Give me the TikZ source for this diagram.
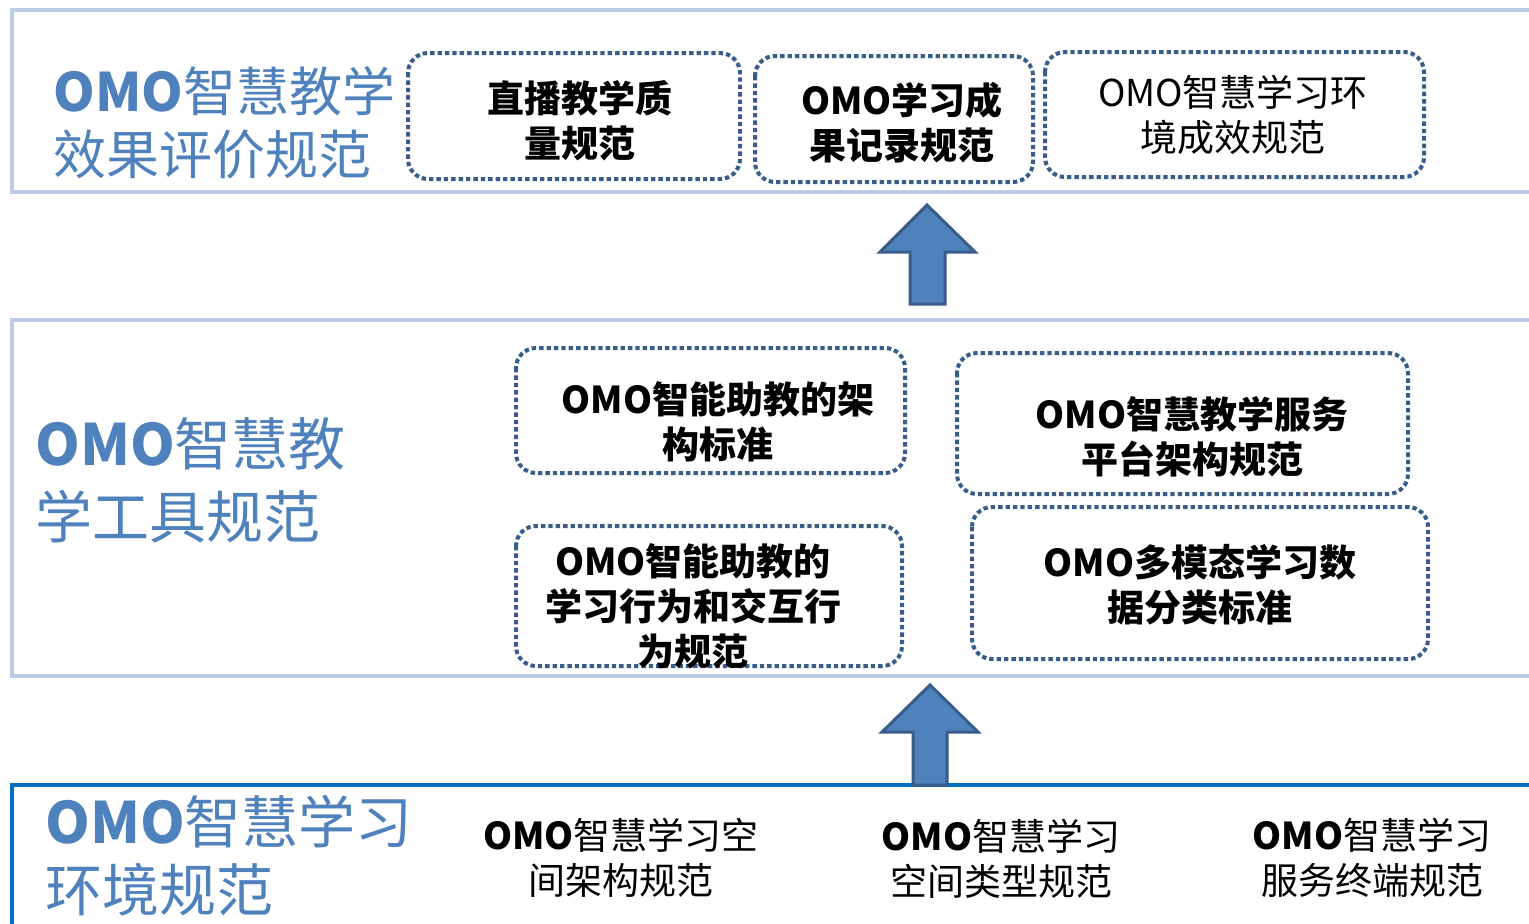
\documentclass[tikz,border=0pt]{standalone}
\usepackage{fontspec}
\setmainfont{Noto Sans CJK SC}
\definecolor{titleblue}{HTML}{4F81BD}
\definecolor{panelline}{HTML}{B9CDE5}
\definecolor{basepanel}{HTML}{0070C0}
\definecolor{dotline}{HTML}{385D8A}
\begin{document}
\begin{tikzpicture}[x=0.5pt, y=-0.5pt,
  panel/.style={draw=panelline, line width=2pt},
  stdbox/.style={draw=dotline, line width=2pt, dash pattern=on 2.2pt off 1.5pt, rounded corners=10pt},
  blockarrow/.style={draw=dotline, line width=1.5pt, fill=titleblue, line join=miter},
  title/.style={anchor=west, inner sep=0pt, align=left, text=titleblue},
  boxtext/.style={inner sep=0pt, align=center, font=\fontsize{18.5pt}{22.5pt}\selectfont\bfseries},
  plaintext/.style={inner sep=0pt, align=center, font=\fontsize{18.5pt}{22.5pt}\selectfont}]
\useasboundingbox (0,0) rectangle (1529,923);
\clip (0,0) rectangle (1529,923);
\fill[white] (0,0) rectangle (1529,923);
\draw[panel] (12,10) rectangle (1545,192);
\draw[panel] (12,320) rectangle (1545,676);
\draw[draw=basepanel, line width=2pt] (12,785) rectangle (1545,940);
\draw[stdbox] (408,53) rectangle (740,179);
\draw[stdbox] (755,56) rectangle (1033,182);
\draw[stdbox] (1045,52) rectangle (1424,177);
\draw[stdbox] (516,348) rectangle (905,473);
\draw[stdbox] (516,526) rectangle (902,666);
\draw[stdbox] (957,353) rectangle (1408,494);
\draw[stdbox] (972,507) rectangle (1428,659);
\draw[blockarrow] (910,304) -- (910,252) -- (880,252) -- (927,205) -- (975,252) -- (945,252) -- (945,304) -- cycle;
\draw[blockarrow] (913,785) -- (913,732) -- (882,732) -- (930,685) -- (978,732) -- (947,732) -- (947,785) -- cycle;
\node[title, font=\fontsize{26.5pt}{31.5pt}\selectfont] (evaltitle) at (53,123) {\textbf{OMO}智慧教学\\效果评价规范};
\node[title, font=\fontsize{28.5pt}{36.5pt}\selectfont] (tooltitle) at (35,480) {\textbf{OMO}智慧教\\学工具规范};
\node[title, font=\fontsize{28.5pt}{34pt}\selectfont] (envtitle) at (45,856) {\textbf{OMO}智慧学习\\环境规范};
\node[boxtext] (live) at (580,121) {直播教学质\\量规范};
\node[boxtext] (record) at (902,123) {OMO学习成\\果记录规范};
\node[plaintext] (effect) at (1233,115) {OMO智慧学习环\\境成效规范};
\node[boxtext] (frame) at (718,422) {OMO智能助教的架\\构标准};
\node[boxtext] (behave) at (693,606) {OMO智能助教的\\学习行为和交互行\\为规范};
\node[boxtext] (service) at (1192,437) {OMO智慧教学服务\\平台架构规范};
\node[boxtext] (multi) at (1200,585) {OMO多模态学习数\\据分类标准};
\node[plaintext] (space) at (621,858) {\textbf{OMO}智慧学习空\\间架构规范};
\node[plaintext] (kind) at (1001,859) {\textbf{OMO}智慧学习\\空间类型规范};
\node[plaintext] (term) at (1372,858) {\textbf{OMO}智慧学习\\服务终端规范};
\end{tikzpicture}
\end{document}
